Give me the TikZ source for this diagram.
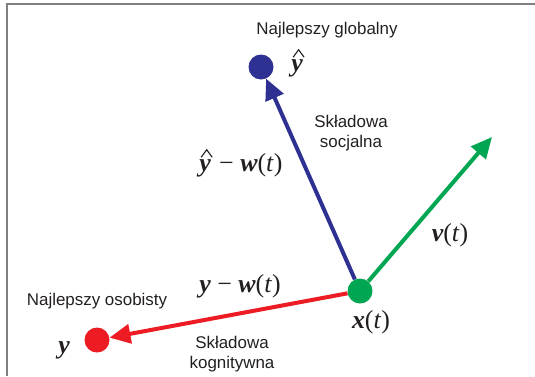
\documentclass[tikz,border=0pt]{standalone}
\usepackage{fontspec}
\setmainfont{Liberation Sans}
\newfontfamily\serf{Liberation Serif}
\usetikzlibrary{arrows.meta}
\definecolor{cblue}{RGB}{46,49,146}
\definecolor{cgreen}{RGB}{0,166,81}
\definecolor{cred}{RGB}{237,28,36}
\definecolor{ctext}{RGB}{35,31,32}
\definecolor{cframe}{RGB}{128,128,128}
\newcommand\bivar[1]{{\bfseries\itshape #1}}
\newcommand\myhat{\tikz[baseline=0pt]{\node[inner sep=0pt,anchor=base] (yy) at (0,0) {\bivar{y}};
  \draw[line width=1.1bp,ctext,line join=miter] ([xshift=-4bp,yshift=14bp]yy.base) -- ++(5.5bp,7.5bp) -- ++(5.5bp,-7.5bp);}}
\newcommand\ofteq{(\textit{t})}
\begin{document}
\begin{tikzpicture}[x=1bp,y=-1bp,
  dot/.style={circle,inner sep=0pt,minimum size=25bp},
  vec/.style={line width=4bp,-{Triangle[length=21bp,width=19bp]}},
  lbl/.style={font=\fontsize{17}{20}\selectfont,text=ctext,align=center},
  mth/.style={font=\serf\fontsize{26}{30}\selectfont,text=ctext,inner sep=0pt}]
\useasboundingbox (0,0) rectangle (535,376);
\draw[cframe,line width=1.2bp] (7,376) -- (7,4) -- (535,4);
% dots
\node[dot,fill=cgreen] (g) at (360,291) {};
\node[dot,fill=cblue] (b) at (261,67) {};
\node[dot,fill=cred] (r) at (97,340) {};
\coordinate (vt) at (492,137);
% vectors
\draw[vec,cblue] (g) -- (b);
\draw[vec,cred] (g) -- (r);
\draw[vec,cgreen] (g) -- (vt);
% labels
\node[lbl] (tglob) at (327,30) {Najlepszy globalny};
\node[lbl] (tosob) at (97,301) {Najlepszy osobisty};
\node[lbl] (tsoc) at (351,133) {Składowa\\socjalna};
\node[lbl] (tkog) at (232,354) {Składowa\\kognitywna};
\node[mth] (lyh) at (298,63) {\myhat};
\node[mth] (lyhw) at (241,163) {\myhat\ − \bivar{w}\ofteq};
\node[mth] (lyw) at (240,286) {\bivar{y} − \bivar{w}\ofteq};
\node[mth] (lv) at (450,235) {\bivar{v}\ofteq};
\node[mth] (lx) at (371,322) {\bivar{x}\ofteq};
\node[mth] (ly) at (64,350) {\bivar{y}};
\end{tikzpicture}
\end{document}
